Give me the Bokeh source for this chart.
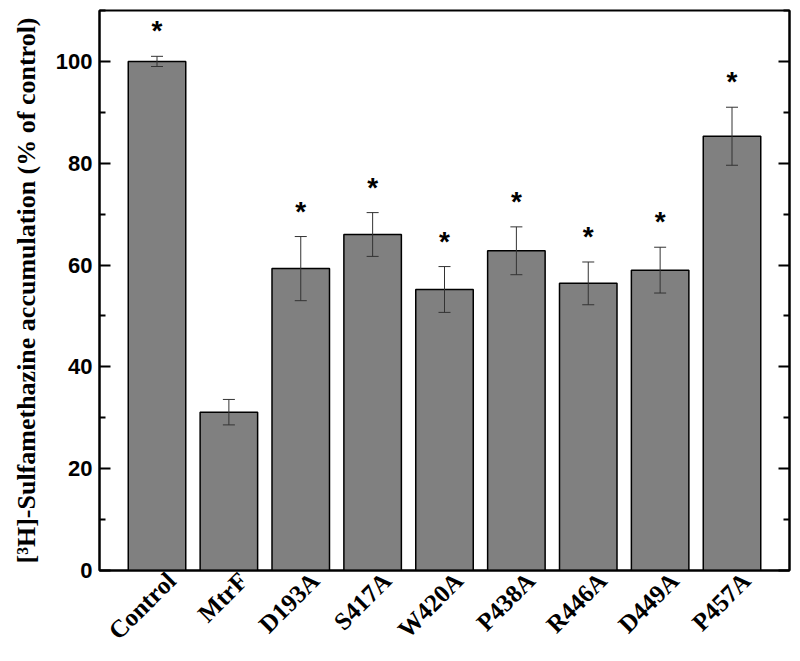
import math
from bokeh.plotting import figure
from bokeh.models import (ColumnDataSource, Whisker, TeeHead, LinearAxis, FixedTicker,
                          Range1d, CustomJSTickFormatter)
from bokeh.core.properties import value
from bokeh.embed import file_html
from bokeh.resources import INLINE

categories = ["Control", "MtrF", "D193A", "S417A", "W420A", "P438A", "R446A", "D449A", "P457A"]
values = [100.0, 31.1, 59.3, 66.0, 55.2, 62.8, 56.4, 59.0, 85.3]
errors = [1.0, 2.5, 6.3, 4.3, 4.5, 4.7, 4.2, 4.5, 5.7]
significant = [True, False, True, True, True, True, True, True, True]
y_ticks = [0, 20, 40, 60, 80, 100]
y_minor_ticks = [10, 30, 50, 70, 90, 110]

xs = list(range(1, len(categories) + 1))
src = ColumnDataSource(dict(
    x=xs, top=values,
    upper=[v + e for v, e in zip(values, errors)],
    lower=[v - e for v, e in zip(values, errors)],
))
star_x = [x for x, s in zip(xs, significant) if s]
star_y = [v + e + 5.0 for v, e, s in zip(values, errors, significant) if s]
star_src = ColumnDataSource(dict(x=star_x, y=star_y, t=["*"] * len(star_x)))

p = figure(width=800, height=661, output_backend="svg", toolbar_location=None,
           x_range=Range1d(0.2, 9.8), y_range=Range1d(0, 110),
           min_border_left=99, min_border_right=11, min_border_top=10, min_border_bottom=91)
p.xgrid.visible = False
p.ygrid.visible = False
p.outline_line_color = "black"
p.outline_line_width = 2
p.background_fill_color = "white"
p.border_fill_color = "white"

p.vbar(x="x", top="top", width=0.8, bottom=0, source=src,
       fill_color="#808080", line_color="black", line_width=1.5)

w = Whisker(base="x", upper="upper", lower="lower", source=src, dimension="height",
            line_color="#333333", line_width=1, level="overlay",
            upper_head=TeeHead(size=12, line_color="#333333", line_width=1),
            lower_head=TeeHead(size=12, line_color="#333333", line_width=1))
p.add_layout(w)

p.text(x="x", y="y", text="t", source=star_src, text_align="center", text_baseline="middle",
       text_font=value("Liberation Sans"), text_font_style="bold", text_font_size="28px",
       text_color="black")

# y axis
yax = p.yaxis[0]
yax.ticker = FixedTicker(ticks=y_ticks, minor_ticks=y_minor_ticks)
yax.axis_line_width = 2
yax.major_tick_in = 11
yax.major_tick_out = 0
yax.minor_tick_in = 6
yax.minor_tick_out = 0
yax.major_tick_line_width = 2
yax.minor_tick_line_width = 2
yax.major_label_text_font = "Liberation Sans"
yax.major_label_text_font_style = "bold"
yax.major_label_text_font_size = "22px"
yax.major_label_text_color = "black"
yax.major_label_standoff = 7
yax.axis_label = "[³H]-Sulfamethazine accumulation (% of control)"
yax.axis_label_text_font = "Liberation Serif"
yax.axis_label_text_font_style = "bold"
yax.axis_label_text_font_size = "26px"
yax.axis_label_text_color = "black"
yax.axis_label_standoff = 12

# right axis (ticks only)
rax = LinearAxis(ticker=FixedTicker(ticks=y_ticks, minor_ticks=y_minor_ticks),
                 formatter=CustomJSTickFormatter(code="return ''"))
rax.axis_line_width = 2
rax.major_tick_in = 11
rax.major_tick_out = 0
rax.minor_tick_in = 6
rax.minor_tick_out = 0
rax.major_tick_line_width = 2
rax.minor_tick_line_width = 2
rax.major_label_text_font_size = "1px"
rax.major_label_standoff = 0
p.add_layout(rax, "right")

# x axis: main axis hidden; labels come from a slightly offset label axis
p.xaxis[0].visible = False
p.extra_x_ranges = {"labels": Range1d(0.0, 9.6)}
xax = LinearAxis(x_range_name="labels", ticker=FixedTicker(ticks=xs))
xax.major_label_overrides = {x: c for x, c in zip(xs, categories)}
xax.major_label_orientation = math.pi / 4
xax.axis_line_width = 2
xax.major_tick_in = 0
xax.major_tick_out = 0
xax.minor_tick_line_color = None
xax.major_label_text_font = "Liberation Serif"
xax.major_label_text_font_style = "bold"
xax.major_label_text_font_size = "25px"
xax.major_label_text_color = "black"
xax.major_label_standoff = 6
p.add_layout(xax, "below")

open("out.html", "w").write(file_html(p, INLINE))
